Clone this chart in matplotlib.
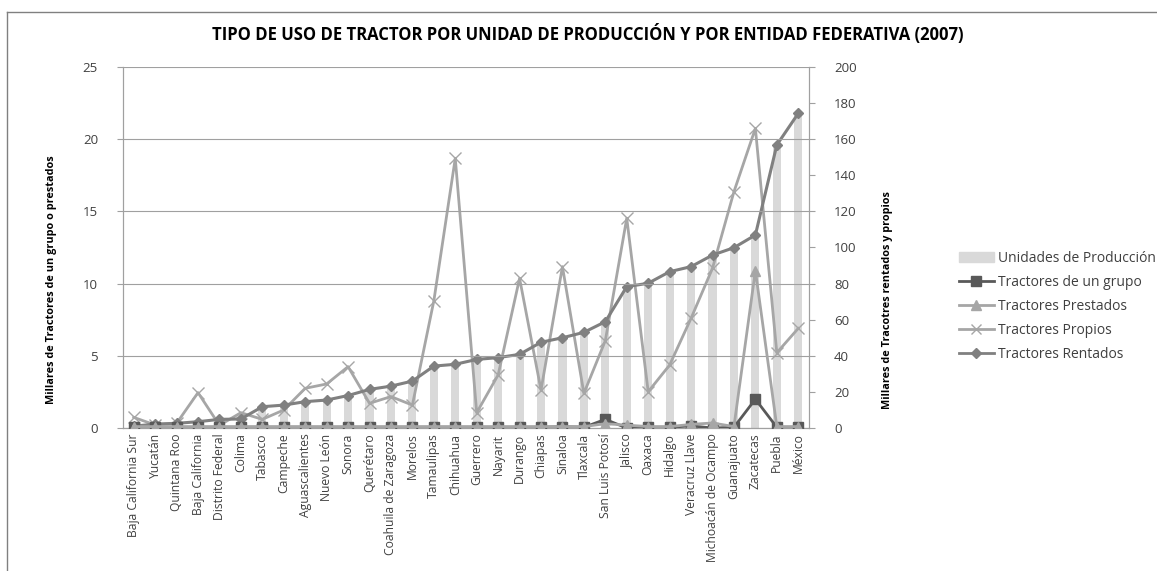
import matplotlib.pyplot as plt
from matplotlib.lines import Line2D
from matplotlib.patches import Patch

# Data (miles)
estados = ['Baja California Sur', 'Yucatán', 'Quintana Roo', 'Baja California',
           'Distrito Federal', 'Colima', 'Tabasco', 'Campeche', 'Aguascalientes',
           'Nuevo León', 'Sonora', 'Querétaro', 'Coahuila de Zaragoza', 'Morelos',
           'Tamaulipas', 'Chihuahua', 'Guerrero', 'Nayarit', 'Durango', 'Chiapas',
           'Sinaloa', 'Tlaxcala', 'San Luis Potosí', 'Jalisco', 'Oaxaca', 'Hidalgo',
           'Veracruz Llave', 'Michoacán de Ocampo', 'Guanajuato', 'Zacatecas',
           'Puebla', 'México']

unidades = [1, 2.2, 2.6, 3.5, 4.8, 5, 11.8, 12.7, 14.6, 15.5, 18, 21.4, 23.2, 26,
            34.3, 35.3, 38, 39, 40.8, 47.5, 50, 53, 58.9, 78.3, 80.2, 86.6, 89.4,
            95.8, 99.9, 106.9, 156.8, 174.3]
rentados = [1, 2.2, 2.6, 3.5, 4.8, 5, 11.8, 12.7, 14.6, 15.5, 18, 21.4, 23.2, 26,
            34.3, 35.3, 38, 39, 40.8, 47.5, 50, 53, 58.9, 78.3, 80.2, 86.6, 89.4,
            95.8, 99.9, 106.9, 156.8, 174.3]
propios = [5.9, 1.7, 2.6, 19.6, 1.5, 8.5, 4.8, 10, 22, 24.4, 34, 13.7, 17.4, 12.7,
           70.4, 149.4, 8.5, 29.4, 82.9, 21, 89.4, 19.2, 48.4, 116.2, 20.1, 34.9,
           60.8, 88.5, 130.9, 166, 41.7, 55.2]
grupo = [0.05, 0.05, 0.05, 0.05, 0.05, 0.05, 0.05, 0.05, 0.05, 0.05, 0.05, 0.05,
         0.05, 0.05, 0.05, 0.05, 0.05, 0.05, 0.05, 0.05, 0.1, 0.05, 0.6, 0.0, 0.05,
         0.05, 0.15, 0.0, 0.05, 2.0, 0.05, 0.05]
prestados = [0.1, 0.1, 0.1, 0.1, 0.1, 0.1, 0.1, 0.1, 0.1, 0.1, 0.1, 0.1, 0.1, 0.1,
             0.1, 0.1, 0.1, 0.1, 0.1, 0.1, 0.1, 0.1, 0.3, 0.2, 0.1, 0.1, 0.25, 0.35,
             0.1, 10.9, 0.1, 0.1]

txt = '#404040'
plt.rcParams['font.family'] = ['Open Sans', 'DejaVu Sans']

fig = plt.figure(figsize=(11.57, 5.71), dpi=100)
ax1 = fig.add_axes([0.1063, 0.2504, 0.5929, 0.6323])
ax2 = ax1.twinx()
# left-axis series drawn on top of the bars
ax1.set_zorder(ax2.get_zorder() + 1)
ax1.patch.set_visible(False)

x = list(range(len(estados)))

ax2.bar(x, unidades, width=0.38, color='#d9d9d9', zorder=1)
ax2.plot(x, propios, color='#a6a6a6', lw=2.0, marker='x', ms=8, mew=1.0, zorder=3)
ax2.plot(x, rentados, color='#808080', lw=2.2, marker='D', ms=5.5, zorder=4)

ax1.plot(x, grupo, color='#595959', lw=2.0, marker='s', ms=7, zorder=3)
ax1.plot(x, prestados, color='#a6a6a6', lw=2.0, marker='^', ms=7, zorder=4)

ax1.set_xlim(-0.5, len(estados) - 0.5)
ax1.set_ylim(0, 25)
ax2.set_ylim(0, 200)
ax1.set_yticks(range(0, 26, 5))
ax2.set_yticks(range(0, 201, 20))

ax1.grid(axis='y', color='#a0a0a0', lw=0.8)
ax1.set_axisbelow(True)

ax1.set_xticks(x)
ax1.set_xticklabels(estados, rotation=90, fontsize=8.7, color=txt)
ax1.tick_params(axis='x', length=0, pad=4)
ax1.tick_params(axis='y', length=4, colors='#a0a0a0', labelcolor=txt, labelsize=9.5, pad=14)
ax2.tick_params(axis='y', length=4, colors='#a0a0a0', labelcolor=txt, labelsize=9.5, pad=14)

for ax in (ax1, ax2):
    ax.spines['top'].set_visible(False)
    for s in ('left', 'right', 'bottom'):
        ax.spines[s].set_color('#a0a0a0')

ax1.set_ylabel('Millares de Tractores de un grupo o prestados', fontsize=7.8,
               fontweight='bold', color='black')
ax1.yaxis.set_label_coords(-0.096, 0.41)
ax2.set_ylabel('Millares de Tracotres rentados y propios', fontsize=7.8,
               fontweight='bold', color='black')
ax2.yaxis.set_label_coords(1.106, 0.355)

fig.text(0.508, 0.94, 'TIPO DE USO DE TRACTOR POR UNIDAD DE PRODUCCIÓN Y POR ENTIDAD FEDERATIVA (2007)',
         ha='center', va='center', fontsize=12, fontweight='bold', color='black')

handles = [Patch(color='#d9d9d9'),
           Line2D([], [], color='#595959', lw=2, marker='s', ms=7),
           Line2D([], [], color='#a6a6a6', lw=2, marker='^', ms=7),
           Line2D([], [], color='#a6a6a6', lw=2, marker='x', ms=7),
           Line2D([], [], color='#808080', lw=2, marker='D', ms=5)]
labels = ['Unidades de Producción', 'Tractores de un grupo', 'Tractores Prestados',
          'Tractores Propios', 'Tractores Rentados']
fig.legend(handles, labels, loc='center left', bbox_to_anchor=(0.818, 0.464),
           frameon=False, fontsize=10, labelcolor=txt, handlelength=2.5,
           handletextpad=0.3, labelspacing=0.65)

# outer chart frame (partially visible in the source)
fig.add_artist(Line2D([7 / 1157, 1.0], [1 - 12 / 571, 1 - 12 / 571], color='#808080', lw=1))
fig.add_artist(Line2D([7 / 1157, 7 / 1157], [0.0, 1 - 12 / 571], color='#808080', lw=1))

fig.savefig('out.png', dpi=100)
